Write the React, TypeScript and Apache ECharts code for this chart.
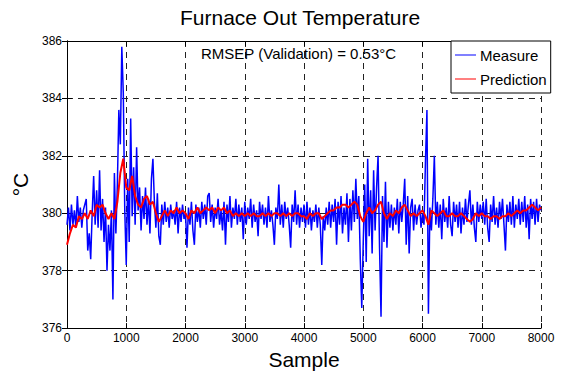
import React, { useEffect, useRef } from "react";
import * as echarts from "echarts";

const chartTitle = "Furnace Out Temperature";
const annotation = "RMSEP (Validation) = 0.53°C";
const xAxisName = "Sample";
const yAxisName = "°C";
const seriesNames = ["Measure", "Prediction"];

const measureStep = 25;
const predictionStep = 50;

const measure0 = [
  379.6, 380.2, 379.4, 380.3, 379.6, 380.1, 379.5, 380.6, 379.7, 380.2,
  379.5, 380.1, 380.3, 380.5, 378.7, 379.3, 378.4, 380.0, 381.3, 379.6,
  380.8, 379.5, 381.5, 379.4, 380.5, 379.0, 380.2, 378.0, 379.6, 378.7,
  380.1, 377.0, 381.4, 379.3, 381.0, 383.6, 382.4, 385.8, 384.2, 380.1,
];
const measure1 = [
  378.2, 381.2, 379.0, 383.3, 379.9, 381.6, 379.6, 382.3, 380.1, 380.9,
  379.4, 380.6, 379.8, 380.9, 379.6, 380.5, 379.3, 381.2, 381.9, 380.4,
  379.5, 380.7, 379.2, 378.9, 380.3, 379.6, 380.4, 379.7, 380.2, 379.5,
  380.3, 379.8, 380.1, 379.6, 380.4, 379.3, 380.2, 379.7, 380.3, 379.8,
];
const measure2 = [
  380.0, 378.8, 380.2, 379.6, 380.4, 379.4, 378.9, 380.3, 379.7, 380.2,
  379.5, 380.4, 379.8, 380.3, 379.6, 380.6, 380.7, 379.7, 380.3, 379.5,
  380.2, 379.8, 380.5, 379.6, 380.1, 379.4, 380.4, 378.9, 380.3, 379.7,
  380.6, 379.5, 380.2, 379.8, 380.5, 379.6, 380.3, 379.7, 380.2, 379.1,
];
const measure3 = [
  380.4, 379.6, 380.2, 379.8, 380.5, 379.5, 380.3, 379.7, 380.1, 379.2,
  380.4, 379.8, 380.3, 379.6, 380.2, 379.5, 380.6, 379.7, 380.1, 379.6,
  378.9, 380.2, 379.8, 381.0, 379.6, 380.3, 379.5, 380.4, 379.8, 380.2,
  379.6, 378.8, 380.3, 379.7, 380.8, 379.6, 380.3, 379.5, 380.2, 379.7,
];
const measure4 = [
  380.3, 379.5, 380.4, 379.6, 380.2, 379.4, 380.1, 379.7, 380.3, 379.5,
  380.2, 379.6, 378.2, 379.9, 379.4, 380.2, 379.6, 380.4, 379.5, 380.3,
  379.7, 380.5, 378.9, 380.4, 379.6, 380.6, 379.3, 380.2, 379.6, 380.7,
  379.0, 380.5, 379.4, 380.8, 379.7, 381.2, 379.8, 380.6, 378.4, 376.7,
];
const measure5 = [
  379.0, 381.0, 378.3, 381.9, 379.2, 380.8, 378.6, 381.5, 379.4, 380.9,
  382.0, 378.8, 376.4, 380.6, 379.0, 381.1, 378.8, 380.4, 379.5, 380.3,
  379.4, 380.2, 379.6, 380.5, 379.3, 380.4, 379.7, 380.3, 381.2, 378.9,
  380.6, 378.6, 380.2, 380.5, 379.4, 380.3, 379.6, 380.1, 380.3, 379.5,
];
const measure6 = [
  380.0, 379.6, 381.8, 383.6, 376.5, 380.2, 379.4, 380.5, 382.0, 379.6,
  380.4, 379.5, 380.3, 379.1, 380.5, 379.7, 380.2, 379.5, 380.6, 379.6,
  379.2, 380.4, 379.7, 380.3, 379.5, 380.4, 379.3, 380.2, 379.6, 380.5,
  379.7, 380.3, 380.8, 379.6, 380.3, 379.5, 379.0, 380.4, 379.7, 380.3,
];
const measure7 = [
  379.8, 380.4, 379.6, 380.5, 379.5, 379.0, 380.3, 379.7, 380.6, 379.6,
  380.2, 379.5, 380.4, 379.8, 380.5, 379.6, 378.7, 380.3, 379.7, 380.4,
  379.6, 380.6, 379.5, 380.3, 379.8, 380.5, 379.6, 380.4, 379.7, 380.6,
  379.5, 380.3, 379.1, 380.5, 379.8, 380.4, 379.6, 380.5, 379.7, 380.3,
  380.1,
];

const prediction0 = [
  378.9, 379.3, 379.6, 379.5, 379.9, 379.8, 380.0, 379.8, 380.1, 379.9,
  380.3, 380.2, 380.3, 380.0, 379.8, 380.0, 379.8, 380.4, 381.4, 381.9,
  380.9, 380.8, 381.3, 380.6, 380.3, 380.2, 380.5, 380.6, 380.3, 380.4,
  380.0, 379.7, 379.9, 380.1, 379.9, 380.1, 380.0, 380.2, 380.0, 380.1,
];
const prediction1 = [
  380.0, 379.8, 380.1, 380.0, 380.2, 380.0, 380.1, 380.2, 380.1, 380.2,
  380.0, 380.2, 380.1, 380.2, 380.0, 380.1, 379.9, 380.0, 379.9, 380.0,
  379.9, 380.0, 379.9, 380.0, 379.9, 379.9, 380.0, 379.9, 380.0, 379.9,
  380.0, 380.0, 379.9, 380.0, 379.9, 380.0, 379.9, 380.0, 380.0, 379.9,
];
const prediction2 = [
  379.9, 379.8, 380.0, 379.9, 380.0, 380.0, 379.8, 379.9, 380.0, 380.1,
  380.1, 380.2, 380.2, 380.3, 380.3, 380.2, 380.3, 380.4, 380.3, 379.9,
  379.7, 380.0, 380.2, 380.0, 380.1, 380.3, 380.4, 380.0, 379.8, 380.0,
  379.9, 380.1, 380.0, 380.2, 380.3, 380.1, 379.9, 380.0, 379.9, 380.0,
];
const prediction3 = [
  380.1, 379.9, 379.6, 380.1, 380.0, 379.9, 380.0, 380.1, 379.9, 379.9,
  380.0, 379.9, 379.9, 380.0, 379.9, 379.8, 379.7, 379.8, 380.0, 379.9,
  380.0, 379.9, 379.9, 379.8, 379.9, 379.9, 379.8, 379.9, 379.9, 380.0,
  379.9, 380.0, 380.1, 380.0, 380.1, 380.1, 380.2, 380.3, 380.2, 380.1,
  380.2,
];

const xTicks = { min: 0, max: 8000, interval: 1000 };
const yTicks = { min: 376, max: 386, interval: 2 };

const FONT = "'Liberation Sans', Arial, Helvetica, sans-serif";

export default function App() {
  const ref = useRef<HTMLDivElement>(null);
  useEffect(() => {
    document.body.style.margin = "0";
    if (!ref.current) return;
    const chart = echarts.init(ref.current, undefined, { renderer: "svg" });
    const measure = [
      ...measure0, ...measure1, ...measure2, ...measure3,
      ...measure4, ...measure5, ...measure6, ...measure7,
    ].map((v, i) => [i * measureStep, v]);
    const prediction = [
      ...prediction0, ...prediction1, ...prediction2, ...prediction3,
    ].map((v, i) => [i * predictionStep, v]);

    const axisLine = { show: true, lineStyle: { color: "#000", width: 1 } };
    const axisTick = { show: true, inside: true, length: 5, lineStyle: { color: "#000" } };
    const splitLine = { show: true, lineStyle: { color: "#222", type: [6, 5], width: 1 } };
    const labelStyle = { color: "#000", fontSize: 12, fontFamily: FONT };

    chart.setOption({
      animation: false,
      backgroundColor: "#fff",
      title: {
        text: chartTitle,
        left: 180,
        top: 7,
        padding: 0,
        textStyle: { color: "#000", fontSize: 21, fontWeight: "normal", fontFamily: FONT },
      },
      grid: { left: 67, right: 23, top: 41, bottom: 43, containLabel: false },
      legend: {
        data: seriesNames.map((n) => ({ name: n, icon: "rect" })),
        orient: "vertical",
        left: 451,
        top: 41,
        padding: [5, 4, 5, 4],
        itemGap: 6,
        itemWidth: 21,
        itemHeight: 1,
        borderColor: "#000",
        borderWidth: 1,
        borderRadius: 0,
        backgroundColor: "#fff",
        textStyle: {
          color: "#000",
          fontSize: 15,
          fontFamily: FONT,
          lineHeight: 18,
          height: 18,
          padding: [0, 0, 0, -1],
        },
      },
      xAxis: [
        {
          type: "value",
          ...xTicks,
          position: "bottom",
          name: xAxisName,
          nameLocation: "middle",
          nameGap: 17,
          nameTextStyle: { color: "#000", fontSize: 21, fontFamily: FONT, verticalAlign: "top" },
          axisLine,
          axisTick,
          splitLine,
          axisLabel: { ...labelStyle, margin: 4, formatter: (v: number) => String(v) },
        },
        {
          type: "value",
          ...xTicks,
          position: "top",
          axisLine,
          axisTick,
          splitLine: { show: false },
          axisLabel: { show: false },
        },
      ],
      yAxis: [
        {
          type: "value",
          ...yTicks,
          position: "left",
          name: yAxisName,
          nameLocation: "middle",
          nameRotate: 90,
          nameGap: 33,
          nameTextStyle: { color: "#000", fontSize: 21, fontFamily: FONT },
          axisLine,
          axisTick,
          splitLine,
          axisLabel: { ...labelStyle, margin: 5, formatter: (v: number) => String(v) },
        },
        {
          type: "value",
          ...yTicks,
          position: "right",
          axisLine,
          axisTick,
          splitLine: { show: false },
          axisLabel: { show: false },
        },
      ],
      graphic: [
        {
          type: "text",
          left: 201,
          top: 46,
          z: 10,
          style: { text: annotation, fill: "#000", fontSize: 15, fontFamily: FONT },
        },
      ],
      series: [
        {
          name: seriesNames[0],
          type: "line",
          data: measure,
          symbol: "none",
          lineStyle: { color: "#0000ff", width: 1.5 },
          itemStyle: { color: "#0000ff" },
          z: 2,
        },
        {
          name: seriesNames[1],
          type: "line",
          data: prediction,
          symbol: "none",
          lineStyle: { color: "#ff0000", width: 2 },
          itemStyle: { color: "#ff0000" },
          z: 3,
        },
      ],
    });
    return () => chart.dispose();
  }, []);
  return (
    <div
      ref={ref}
      style={{ position: "absolute", left: 0, top: 0, width: 564, height: 375 }}
    />
  );
}
